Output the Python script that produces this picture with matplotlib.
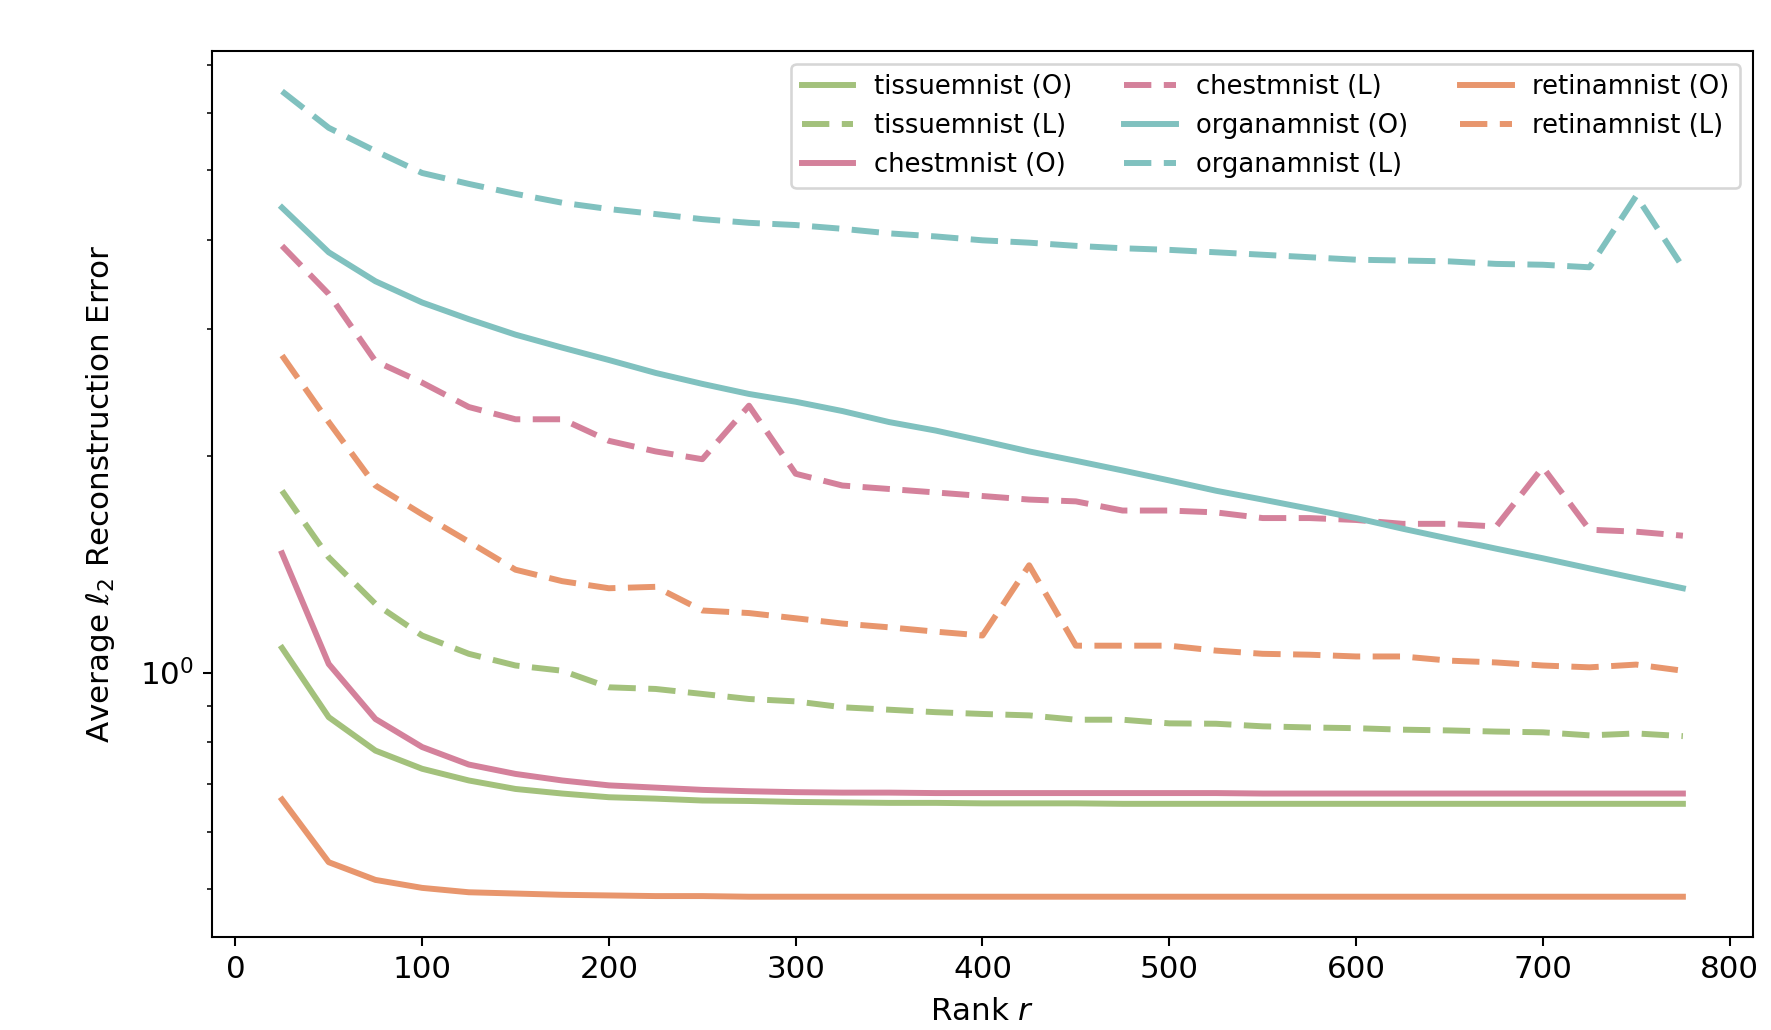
import numpy as np
import matplotlib
matplotlib.use('Agg')
import matplotlib.pyplot as plt

# Ранги r
ranks = [25, 50, 75, 100, 125, 150, 175, 200, 225, 250, 275, 300, 325, 350, 375, 400,
         425, 450, 475, 500, 525, 550, 575, 600, 625, 650, 675, 700, 725, 750, 775]

# Средняя ошибка реконструкции (O и L) для каждого датасета
tissue_O = [1.082, 0.867, 0.779, 0.735, 0.708, 0.689, 0.679, 0.671, 0.668, 0.664, 0.663,
            0.661, 0.660, 0.659, 0.659, 0.658, 0.658, 0.658, 0.657, 0.657, 0.657, 0.657,
            0.657, 0.657, 0.657, 0.657, 0.657, 0.657, 0.657, 0.657, 0.657]
tissue_L = [1.79, 1.446, 1.246, 1.126, 1.062, 1.023, 1.006, 0.954, 0.949, 0.934, 0.919,
            0.912, 0.895, 0.888, 0.881, 0.876, 0.872, 0.860, 0.860, 0.850, 0.849, 0.842,
            0.839, 0.837, 0.833, 0.831, 0.828, 0.826, 0.818, 0.823, 0.816]
chest_O = [1.465, 1.028, 0.862, 0.788, 0.745, 0.723, 0.708, 0.697, 0.692, 0.687, 0.684,
           0.682, 0.681, 0.681, 0.680, 0.680, 0.680, 0.680, 0.680, 0.680, 0.680, 0.679,
           0.679, 0.679, 0.679, 0.679, 0.679, 0.679, 0.679, 0.679, 0.679]
chest_L = [3.92, 3.36, 2.71, 2.53, 2.34, 2.25, 2.25, 2.10, 2.03, 1.98, 2.35,
           1.89, 1.82, 1.80, 1.78, 1.76, 1.74, 1.73, 1.68, 1.68, 1.67, 1.64,
           1.64, 1.63, 1.61, 1.61, 1.596, 1.93, 1.58, 1.57, 1.55]
organ_O = [4.43, 3.84, 3.50, 3.27, 3.10, 2.95, 2.83, 2.72, 2.61, 2.52, 2.44,
           2.38, 2.31, 2.23, 2.17, 2.10, 2.03, 1.97, 1.91, 1.85, 1.79, 1.74,
           1.69, 1.64, 1.585, 1.535, 1.487, 1.442, 1.396, 1.352, 1.31]
organ_L = [6.43, 5.72, 5.31, 4.95, 4.78, 4.63, 4.50, 4.41, 4.34, 4.27, 4.22,
           4.19, 4.14, 4.08, 4.04, 3.99, 3.96, 3.92, 3.89, 3.87, 3.84, 3.81,
           3.78, 3.75, 3.74, 3.73, 3.70, 3.69, 3.66, 4.60, 3.66]
retina_O = [0.666, 0.545, 0.515, 0.502, 0.495, 0.493, 0.491, 0.490, 0.489, 0.489, 0.488,
            0.488, 0.488, 0.488, 0.488, 0.488, 0.488, 0.488, 0.488, 0.488, 0.488, 0.488,
            0.488, 0.488, 0.488, 0.488, 0.488, 0.488, 0.488, 0.488, 0.488]
retina_L = [2.76, 2.23, 1.82, 1.66, 1.52, 1.39, 1.34, 1.31, 1.316, 1.22, 1.21,
            1.19, 1.17, 1.156, 1.14, 1.126, 1.41, 1.09, 1.09, 1.09, 1.073, 1.062,
            1.059, 1.053, 1.053, 1.039, 1.033, 1.023, 1.017, 1.026, 1.006]

# Цвета датасетов
colors = {'tissuemnist': '#a3c17c', 'chestmnist': '#d4819b',
          'organamnist': '#80c1bf', 'retinamnist': '#e8966d'}

series = [('tissuemnist', tissue_O, tissue_L),
          ('chestmnist', chest_O, chest_L),
          ('organamnist', organ_O, organ_L),
          ('retinamnist', retina_O, retina_L)]

lw = 2.3
dash = (0, (4.6, 2.1))

fig = plt.figure(figsize=(1771 / 186, 1030 / 186), dpi=186)
ax = fig.add_axes([0.1197, 0.0903, 0.8701, 0.8602])

for name, vals_o, vals_l in series:
    ax.plot(ranks, vals_o, color=colors[name], lw=lw, label=name + ' (O)')
    ax.plot(ranks, vals_l, color=colors[name], lw=lw, linestyle=dash, label=name + ' (L)')

ax.set_yscale('log')
ax.set_xlabel('Rank $r$', fontsize=12, labelpad=5)
ax.set_ylabel(r'Average $\ell_2$ Reconstruction Error', fontsize=12, labelpad=9)
ax.tick_params(labelsize=12)

ax.legend(loc='upper right', ncol=3, fontsize=10)

plt.savefig('out.png', dpi=186)
